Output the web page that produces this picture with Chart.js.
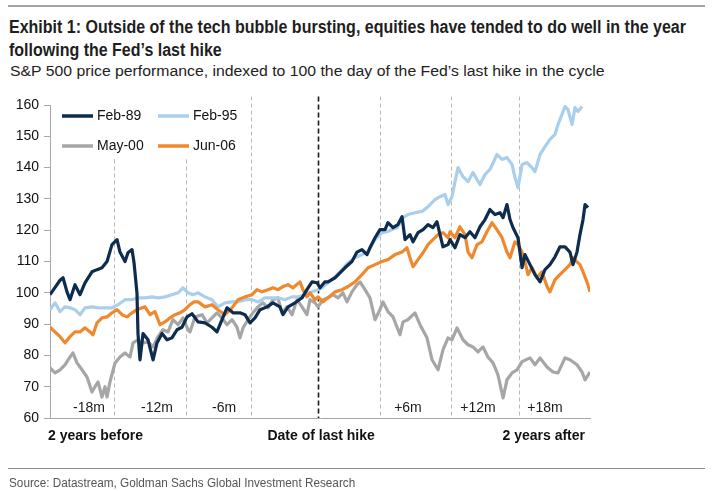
<!DOCTYPE html>
<html><head><meta charset="utf-8">
<script src="https://cdn.jsdelivr.net/npm/chart.js@4.4.1/dist/chart.umd.min.js"></script>
<style>
html,body{margin:0;padding:0;background:#fff;}
#wrap{position:relative;width:713px;height:491px;overflow:hidden;background:#fff;}
#c{position:absolute;left:0;top:0;}
.t{position:absolute;white-space:nowrap;transform-origin:0 50%;font-family:"Liberation Sans Narrow","Arial Narrow","Liberation Sans",Arial,sans-serif;color:#1e1e1e;line-height:1;}
.rule{position:absolute;left:8px;width:697px;}
</style></head><body>
<div id="wrap">
<div class="rule" style="top:5px;height:2px;background:#a3a3a3"></div>
<div class="t" data-w="677" style="left:9px;top:19px;font-size:17.5px;font-weight:bold">Exhibit 1: Outside of the tech bubble bursting, equities have tended to do well in the year</div>
<div class="t" data-w="213" style="left:9px;top:42px;font-size:17.5px;font-weight:bold">following the Fed’s last hike</div>
<div class="t" data-w="595" style="left:10px;top:63px;font-size:15.5px;color:#222">S&amp;P 500 price performance, indexed to 100 the day of the Fed’s last hike in the cycle</div>
<canvas id="c" width="713" height="491"></canvas>
<div class="rule" style="top:468px;height:1px;background:#8c8c8c"></div>
<div class="t" data-w="346" style="left:9px;top:477px;font-size:12.5px;color:#555">Source: Datastream, Goldman Sachs Global Investment Research</div>
</div>
<script>
// ---- data: [months relative to the Fed's last hike, index level] ----
const seriesNames = ['Feb-89','Feb-95','May-00','Jun-06'];
const feb89 = [[-24.00,99.4],[-23.11,104],[-22.84,104.8],[-22.49,100.3],[-22.22,97.8],[-21.78,102.6],[-21.33,99.4],[-20.89,103.2],[-20.27,106.7],[-19.82,107.4],[-19.38,108],[-18.93,110],[-18.49,115.4],[-18.04,117],[-17.78,113],[-17.33,110],[-17.07,112.8],[-16.71,113.8],[-16.53,109.6],[-16.27,100],[-16.18,87],[-16.00,78.6],[-15.73,87],[-15.29,85],[-14.84,78.6],[-14.49,84],[-14.04,87],[-13.60,85],[-13.16,85.6],[-12.71,88.2],[-12.27,89],[-11.82,92.3],[-11.38,93.3],[-10.84,90.7],[-10.22,90.4],[-9.60,89],[-9.16,87.5],[-8.71,91.4],[-8.27,95.2],[-7.73,93.6],[-7.11,93.6],[-6.67,93],[-6.22,90.4],[-5.78,92],[-5.33,94.6],[-4.71,95.5],[-4.18,96.8],[-3.56,95.5],[-3.29,93],[-2.84,95.5],[-2.22,96.8],[-1.60,98.4],[-1.16,101],[-0.71,103.5],[-0.27,103.2],[0.00,101.6],[0.44,103.5],[0.71,103.5],[1.33,104.8],[1.78,106.4],[2.22,108],[2.84,110],[3.29,113],[3.73,113.8],[4.18,112.2],[4.44,114.4],[4.89,117.6],[5.33,120.2],[5.78,120.2],[6.04,122.4],[6.49,120.8],[6.93,121.8],[7.29,124.3],[7.56,117],[8.00,118.6],[8.27,116.3],[8.71,119.2],[9.16,120.2],[9.60,121.8],[10.04,120.8],[10.40,122.7],[10.67,118.6],[10.93,114.7],[11.38,115.4],[11.56,117],[12.00,114.4],[12.44,118.6],[12.89,117.6],[13.33,119.5],[13.78,117.6],[14.22,121.1],[14.67,123.4],[15.11,126.6],[15.56,125],[16.00,125.6],[16.27,124],[16.62,128.2],[16.89,123.4],[17.16,120.8],[17.60,117.6],[17.96,108],[18.22,112.2],[18.67,109],[19.11,105.8],[19.56,103.5],[20.00,107.4],[20.44,109],[20.89,111.5],[21.33,114.7],[21.78,114.7],[22.22,113],[22.49,109],[22.84,113],[23.11,118.6],[23.38,123.4],[23.56,128.2],[23.82,127.2]];
const feb95 = [[-24.00,94.6],[-23.56,96.8],[-23.11,94],[-22.67,95.5],[-22.22,95.2],[-21.78,94.6],[-21.33,93],[-20.89,95.2],[-20.27,95.5],[-19.73,95.2],[-19.11,95.2],[-18.49,95.2],[-17.96,96.2],[-17.33,97.8],[-16.71,97.8],[-16.18,98.4],[-15.56,98.4],[-14.93,98.7],[-14.40,98.4],[-13.78,98.7],[-13.16,99.4],[-12.62,100],[-12.18,101.6],[-11.73,100],[-11.29,99.4],[-10.84,100],[-10.22,98.7],[-9.60,97.8],[-9.07,95.5],[-8.44,96.8],[-7.82,97.1],[-7.29,97.1],[-6.67,97.8],[-6.04,97.8],[-5.51,97.1],[-4.89,98.4],[-4.27,98.4],[-3.73,98.4],[-3.11,97.8],[-2.49,98.7],[-1.96,98.7],[-1.33,99.4],[-0.71,100.3],[-0.18,101],[0.18,101.6],[0.71,103.2],[1.33,105.1],[1.96,107.4],[2.49,109.6],[3.11,111.2],[3.73,112.2],[4.27,113],[4.89,117],[5.51,119.2],[5.96,119.5],[6.40,120.2],[6.84,120.8],[7.38,124],[7.82,125],[8.44,125.6],[9.07,126],[9.60,127.5],[10.22,129.8],[10.67,130.7],[11.11,131.4],[11.38,128.2],[11.73,130.7],[12.00,135.5],[12.27,140],[12.71,137.1],[13.16,135.5],[13.60,138.4],[14.22,134.6],[14.67,137.8],[15.11,139.4],[15.73,144.2],[16.18,142.6],[16.62,143.2],[17.07,141],[17.33,136.8],[17.60,133.6],[17.96,141],[18.40,141.6],[18.84,140],[19.11,138.7],[19.56,144.2],[20.00,146.7],[20.44,149],[20.89,150.6],[21.16,153.8],[21.51,157],[21.78,159.5],[22.04,158.6],[22.40,153.8],[22.67,159.2],[22.93,157.9],[23.29,159.5]];
const may00 = [[-24.00,76],[-23.56,74.4],[-23.11,75.4],[-22.67,77],[-22.22,79.5],[-21.96,80.8],[-21.60,77.6],[-21.16,75.4],[-20.71,73.1],[-20.27,68.3],[-20.00,70],[-19.73,71.5],[-19.38,66.7],[-19.11,70],[-18.93,66.7],[-18.67,71.5],[-18.22,77.6],[-17.78,79.5],[-17.33,80.8],[-16.89,79.5],[-16.62,84],[-16.18,85],[-15.73,84],[-15.29,84.3],[-14.84,82.7],[-14.40,86],[-13.96,88.2],[-13.51,87.5],[-13.07,91.4],[-12.62,89.8],[-12.18,92],[-11.73,88.2],[-11.56,87.5],[-11.11,92.3],[-10.49,93],[-10.04,90.4],[-9.60,92],[-9.16,93.6],[-8.71,92],[-8.27,89.8],[-7.82,91.4],[-7.38,89],[-7.11,85.6],[-6.84,88.8],[-6.40,91.4],[-5.96,93.6],[-5.51,95.5],[-5.07,96.8],[-4.62,95.2],[-4.18,97.8],[-3.73,98.4],[-3.38,93.6],[-2.93,95.5],[-2.49,93],[-2.04,97.8],[-1.60,95.5],[-1.16,93],[-0.89,97.8],[-0.44,96.8],[-0.18,95.5],[0.27,97.8],[0.71,98.4],[1.16,99.4],[1.60,98.4],[2.04,100],[2.40,97.1],[2.84,100.3],[3.29,102.6],[3.56,103.5],[4.00,101],[4.44,98.4],[4.89,91.4],[5.33,94.6],[5.60,97.1],[6.04,94],[6.49,92.3],[7.11,86.6],[7.38,90.7],[7.82,91.4],[8.44,93.6],[8.89,89.8],[9.51,85.6],[9.96,78.6],[10.49,75.4],[10.93,81.8],[11.38,85.6],[11.73,85],[12.18,88.8],[12.71,85],[13.16,83.4],[13.60,82.7],[14.04,81.1],[14.49,82.7],[14.93,79.5],[15.38,77.6],[15.82,73.8],[16.27,66.4],[16.62,72.2],[17.07,74.4],[17.51,75.4],[17.96,78],[18.67,79.2],[19.11,77],[19.56,79.2],[20.18,76.3],[20.71,74.7],[21.16,74.4],[21.78,79.2],[22.22,78.6],[22.84,77],[23.29,74.7],[23.56,72.2],[24.00,74.7]];
const jun06 = [[-24.00,89],[-23.56,87.5],[-23.11,86],[-22.67,84],[-22.22,86],[-21.78,87.5],[-21.33,87.5],[-20.89,88.8],[-20.44,87.5],[-20.18,86.6],[-19.82,90.4],[-19.38,92],[-18.93,92.3],[-18.49,93.6],[-18.04,94.6],[-17.60,93],[-17.16,92.3],[-16.71,93.6],[-16.27,94.6],[-15.82,95.2],[-15.56,95.5],[-15.11,93],[-14.67,94],[-14.22,89.8],[-13.78,90.7],[-13.33,92],[-12.89,93],[-12.44,93.6],[-12.00,94.6],[-11.56,96.2],[-11.20,97.1],[-10.84,97.1],[-10.22,95.5],[-9.60,96.2],[-9.07,94.6],[-8.44,93],[-7.82,95.2],[-7.29,97.8],[-6.67,98.7],[-6.04,99.4],[-5.60,101],[-5.16,100.3],[-4.62,101],[-4.18,101.6],[-3.73,101],[-3.29,102],[-2.84,102.6],[-2.40,101.6],[-1.78,103.5],[-1.51,101],[-1.16,98.7],[-0.89,100],[-0.44,97.8],[-0.18,98.7],[0.27,97.1],[0.71,98.4],[1.33,100.3],[1.96,101],[2.49,102],[3.11,103.5],[3.73,105.8],[4.27,108],[4.89,109],[5.51,110],[6.04,110.6],[6.67,112.2],[7.29,113],[7.73,114.4],[8.00,111.2],[8.27,108.3],[8.71,110.6],[9.16,112.8],[9.60,115.4],[10.04,117],[10.49,118.6],[10.93,119.2],[11.38,117.6],[11.56,119.5],[12.00,117.6],[12.44,121.1],[12.89,118.6],[13.16,113],[13.51,111.2],[13.96,115.4],[14.40,116.3],[14.84,119.5],[15.29,122.4],[15.73,120.2],[16.18,117.6],[16.62,113],[16.89,111.2],[17.33,116.3],[17.60,115.4],[17.96,113],[18.22,109.9],[18.49,105.8],[18.84,108],[19.29,104.8],[19.73,106.7],[20.18,102],[20.44,100.3],[20.89,104.2],[21.33,105.8],[21.78,107.4],[22.22,109],[22.49,111.2],[22.84,109.9],[23.11,109],[23.38,106.7],[23.73,103.5],[24.00,100.3]];
const yTicks = [60,70,80,90,100,110,120,130,140,150,160];
const dividerMonths = [-18.31,-11.91,-6.13,-0.18,5.33,11.64,17.69];
const dividerTops = [142.6,142.6,162.7,162.7,162.7,162.7,162.7];
const periodLabels = ['-18m','-12m','-6m','+6m','+12m','+18m'];
const periodLabelMonths = [-20.53,-14.49,-8.53,7.82,14.04,20.0];
const axisCaptions = ['2 years before','Date of last hike','2 years after'];

const colors = ['#0e2c4e','#a9cfec','#a6a6a6','#f0892e'];
const seriesData = [feb89,feb95,may00,jun06];

const ann = {
  id:'ann',
  beforeDatasetsDraw(c){
    const {ctx, scales:{x,y}, chartArea:a} = c;
    ctx.save();
    dividerMonths.forEach((m,i)=>{
      const px = Math.round(x.getPixelForValue(m))+0.5;
      const top = y.getPixelForValue(dividerTops[i]);
      const hike = i===3;
      ctx.beginPath();
      ctx.strokeStyle = hike ? '#1a1a1a' : '#b8b8b8';
      ctx.lineWidth = hike ? 1.6 : 1;
      ctx.setLineDash(hike ? [5,3] : [4,3]);
      ctx.moveTo(px, top); ctx.lineTo(px, a.bottom);
      ctx.stroke();
    });
    ctx.restore();
  },
  afterDraw(c){
    const {ctx, scales:{x,y}, chartArea:a} = c;
    ctx.save();
    ctx.fillStyle='#1a1a1a';
    ctx.textBaseline='middle';
    ctx.textAlign='center';
    ctx.font='14px "Liberation Sans", Arial, sans-serif';
    periodLabels.forEach((t,i)=>{
      ctx.fillText(t, x.getPixelForValue(periodLabelMonths[i]), a.bottom-10);
    });
    ctx.font='bold 14px "Liberation Sans", Arial, sans-serif';
    ctx.fillStyle='#111';
    ctx.textAlign='left';
    ctx.fillText(axisCaptions[0], a.left-2, a.bottom+18);
    ctx.textAlign='center';
    ctx.fillText(axisCaptions[1], x.getPixelForValue(0.1), a.bottom+18);
    ctx.textAlign='right';
    ctx.fillText(axisCaptions[2], a.right-5, a.bottom+18);
    // legend (2 x 2)
    ctx.font='14px "Liberation Sans", Arial, sans-serif';
    ctx.textAlign='left';
    const cols=[a.left+12, a.left+108], rows=[a.top+11, a.top+41];
    seriesNames.forEach((n,i)=>{
      const cx = cols[i%2], cy = rows[Math.floor(i/2)];
      ctx.beginPath(); ctx.strokeStyle=colors[i]; ctx.lineWidth=3.5; ctx.setLineDash([]);
      ctx.moveTo(cx, cy); ctx.lineTo(cx+31, cy); ctx.stroke();
      ctx.fillStyle='#111';
      ctx.fillText(n, cx+35, cy+0.5);
    });
    ctx.restore();
  }
};

new Chart(document.getElementById('c'), {
  type:'line',
  data:{datasets: seriesNames.map((n,i)=>({
    label:n,
    data: seriesData[i].map(p=>({x:p[0], y:p[1]})),
    borderColor: colors[i], backgroundColor: colors[i],
    borderWidth: 3.2, pointRadius:0, tension:0, fill:false,
    order: [0,2,3,1][i]
  }))},
  options:{
    responsive:false, animation:false, devicePixelRatio:1,
    layout:{padding:{left:0, top:105, right:123, bottom:73}},
    plugins:{legend:{display:false}, tooltip:{enabled:false}},
    elements:{line:{borderJoinStyle:'round'}},
    scales:{
      x:{type:'linear', min:-24, max:24,
        ticks:{display:false}, grid:{display:false, drawTicks:false},
        border:{display:true, color:'#a8a8a8', width:1},
        afterFit(s){ s.height = 0; }},
      y:{type:'linear', min:60, max:160,
        afterBuildTicks(s){ s.ticks = yTicks.map(v=>({value:v})); },
        ticks:{color:'#111', font:{family:'"Liberation Sans", Arial, sans-serif', size:14}, padding:5},
        grid:{display:true, drawOnChartArea:false, drawTicks:true, tickLength:6, color:'#a8a8a8'},
        border:{display:true, color:'#a8a8a8', width:1},
        afterFit(s){ s.width = 50; }}
    }
  },
  plugins:[ann]
});

document.querySelectorAll('.t').forEach(el=>{
  const w = el.offsetWidth, target = +el.dataset.w;
  if (w>0 && target>0) el.style.transform = 'scaleX(' + (target/w).toFixed(4) + ')';
});
</script>
</body></html>
